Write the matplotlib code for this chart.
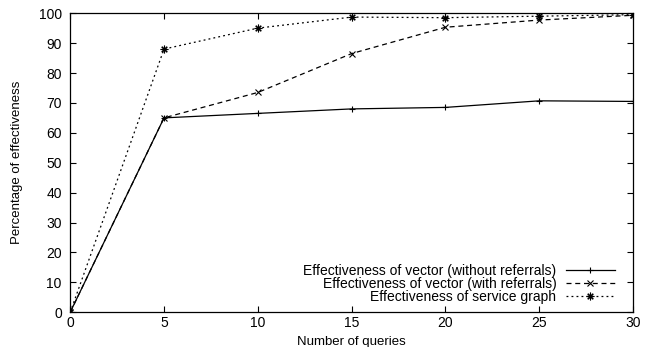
import matplotlib
matplotlib.use("Agg")
from matplotlib import pyplot as plt

plt.rcParams['font.family'] = ['Liberation Sans', 'DejaVu Sans']
plt.rcParams['font.size'] = 10

queries = [0, 5, 10, 15, 20, 25, 30]
without_referrals = [0, 65, 66.5, 68, 68.5, 70.7, 70.5]
with_referrals = [0, 65, 73.5, 86.5, 95.3, 97.7, 99.3]
service_graph = [0, 88, 95, 98.7, 98.5, 99, 99.5]

fig = plt.figure(figsize=(6.5, 3.47), dpi=100)
ax = fig.add_axes([0.108, 0.1, 0.866, 0.862])

ax.plot(queries, without_referrals, color='black', lw=0.9, marker='+', ms=5, mew=0.8,
        label='Effectiveness of vector (without referrals)')
ax.plot(queries, with_referrals, color='black', lw=0.9, ls=(0, (4, 3)), marker='x', ms=4.5, mew=0.8,
        label='Effectiveness of vector (with referrals)')
ax.plot(queries, service_graph, color='black', lw=0.9, ls=(0, (1.5, 2.5)), marker=(8, 2, 0), ms=5.5, mew=0.8,
        label='Effectiveness of service graph')

ax.set_xlim(0, 30)
ax.set_ylim(0, 100)
ax.set_xticks(range(0, 31, 5))
ax.set_yticks(range(0, 101, 10))
ax.tick_params(direction='in', top=True, right=True, length=4, width=0.8)
ax.tick_params(axis='x', pad=3)
ax.tick_params(axis='y', pad=6)
for s in ax.spines.values():
    s.set_linewidth(0.9)

ax.set_xlabel('Number of queries', fontsize=9.5, labelpad=4)
ax.set_ylabel('Percentage of effectiveness', fontsize=9.5, labelpad=11)

leg = ax.legend(loc='lower right', bbox_to_anchor=(0.977, 0.01), frameon=False, markerfirst=False,
                handlelength=3.5, labelspacing=-0.08, borderaxespad=0, handletextpad=0.7)
# right-align the label column
leg._legend_box.align = 'right'
for vp in leg._legend_box.get_children()[1].get_children():
    vp.align = 'right'

fig.savefig('out.png', dpi=100)
